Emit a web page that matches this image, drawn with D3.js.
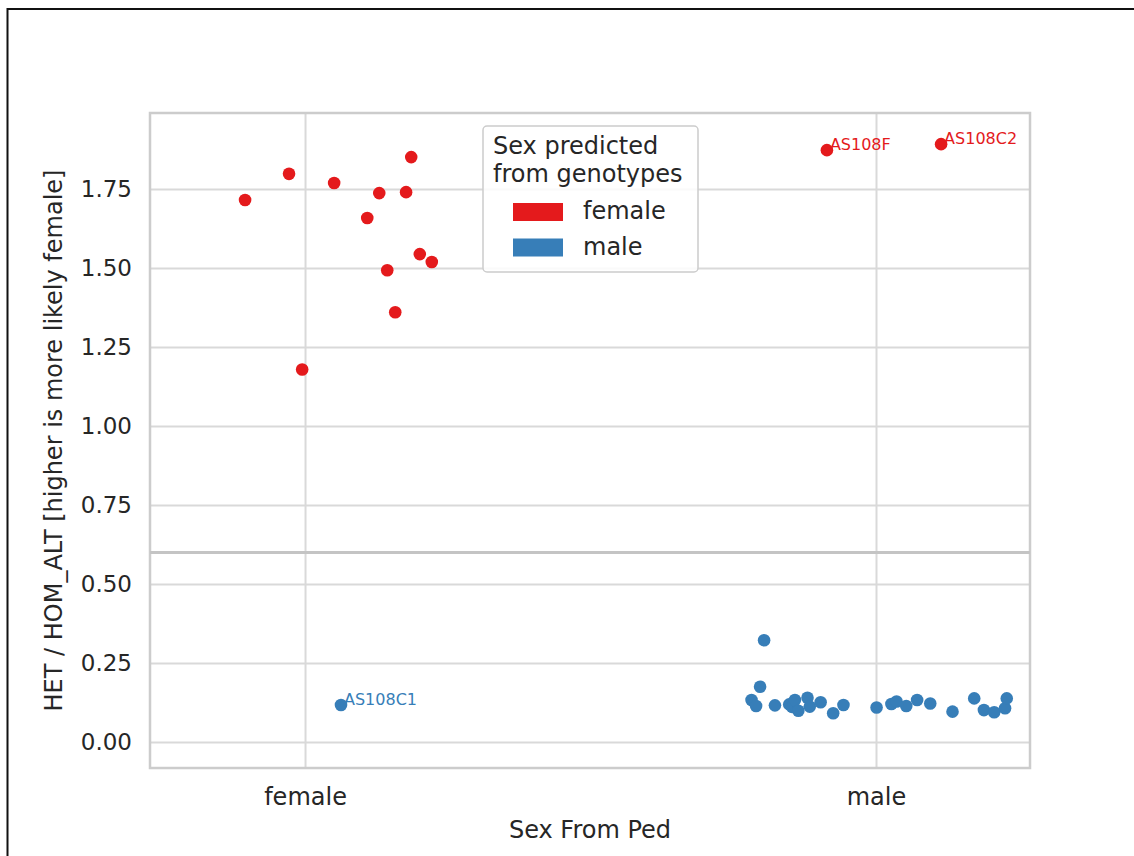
<!DOCTYPE html>
<html>
<head>
<meta charset="utf-8">
<script src="https://cdn.jsdelivr.net/npm/d3@7"></script>
<style>
  body { margin: 0; background: #fff; }
  text { font-family: 'DejaVu Sans', sans-serif; }
</style>
</head>
<body>
<svg id="chart" width="1134" height="856"></svg>
<script>
// categories on the x axis (Sex From Ped) and predicted sex (hue)
const categories = ['female', 'male'];
const predicted = ['female', 'male'];

// ped female, predicted female
const femFemRatio = [1.715, 1.798, 1.769, 1.851, 1.737, 1.740, 1.658, 1.544, 1.519, 1.493, 1.360, 1.179];
const femFemJitter = [-0.105, -0.028, 0.051, 0.186, 0.130, 0.177, 0.109, 0.201, 0.222, 0.144, 0.158, -0.005];

// ped female, predicted male
const femMaleRatio = [0.117];
const femMaleJitter = [0.063];
const femMaleLabels = ['AS108C1'];

// ped male, predicted female
const maleFemRatio = [1.873, 1.892];
const maleFemJitter = [-0.086, 0.114];
const maleFemLabels = ['AS108F', 'AS108C2'];

// ped male, predicted male
const maleMaleRatio = [0.322, 0.175, 0.133, 0.114, 0.116, 0.119, 0.111, 0.133, 0.099, 0.140, 0.112, 0.126,
  0.091, 0.117, 0.109, 0.120, 0.128, 0.114, 0.133, 0.122, 0.096, 0.138, 0.101, 0.094, 0.107, 0.138];
const maleMaleJitter = [-0.196, -0.203, -0.218, -0.210, -0.177, -0.152, -0.147, -0.142, -0.136, -0.120, -0.116, -0.097,
  -0.075, -0.057, 0.001, 0.027, 0.036, 0.053, 0.072, 0.095, 0.134, 0.172, 0.189, 0.207, 0.226, 0.229];

const yTicks = [0, 0.25, 0.5, 0.75, 1.0, 1.25, 1.5, 1.75];
const threshold = 0.6;

const color = d3.scaleOrdinal().domain(predicted).range(['#e41a1c', '#377eb8']);

function build(ratio, jitter, ped, pred, labels) {
  return ratio.map((r, i) => ({
    ratio: r,
    pos: categories.indexOf(ped) + jitter[i],
    pred: pred,
    label: labels ? labels[i] : null
  }));
}

const points = [].concat(
  build(femFemRatio, femFemJitter, 'female', 'female'),
  build(femMaleRatio, femMaleJitter, 'female', 'male', femMaleLabels),
  build(maleFemRatio, maleFemJitter, 'male', 'female', maleFemLabels),
  build(maleMaleRatio, maleMaleJitter, 'male', 'male')
);

const svg = d3.select('#chart');
const margin = { left: 150, right: 1030, top: 113, bottom: 768 };
const plotW = margin.right - margin.left, plotH = margin.bottom - margin.top;
const textColor = '#262626';

// outer frame of the screenshot
svg.append('path')
  .attr('d', 'M7.5,856 L7.5,9 L1134,9')
  .attr('fill', 'none')
  .attr('stroke', '#111')
  .attr('stroke-width', 2);

const x = d3.scaleLinear().domain([-0.2715, 1.2697]).range([0, plotW]);
const y = d3.scaleLinear().domain([-0.0823, 1.9905]).range([plotH, 0]);

const g = svg.append('g').attr('transform', 'translate(' + margin.left + ',' + margin.top + ')');

// y axis + horizontal grid
const yAxis = g.append('g')
  .call(d3.axisLeft(y).tickValues(yTicks).tickFormat(d3.format('.2f'))
    .tickSizeInner(-plotW).tickSizeOuter(0).tickPadding(18));
yAxis.select('.domain').remove();
yAxis.selectAll('line').attr('stroke', '#d9d9d9').attr('stroke-width', 2);
yAxis.selectAll('text').attr('fill', textColor).attr('font-size', '23px');

// x axis + vertical grid
const xAxis = g.append('g')
  .attr('transform', 'translate(0,' + plotH + ')')
  .call(d3.axisBottom(x).tickValues([0, 1]).tickFormat(i => categories[i])
    .tickSizeInner(-plotH).tickSizeOuter(0).tickPadding(20));
xAxis.select('.domain').remove();
xAxis.selectAll('line').attr('stroke', '#d9d9d9').attr('stroke-width', 2);
xAxis.selectAll('text').attr('fill', textColor).attr('font-size', '24px');

// spines
g.append('rect')
  .attr('width', plotW)
  .attr('height', plotH)
  .attr('fill', 'none')
  .attr('stroke', '#cccccc')
  .attr('stroke-width', 2.5);

// threshold line
g.append('line')
  .attr('x1', 0)
  .attr('x2', plotW)
  .attr('y1', y(threshold))
  .attr('y2', y(threshold))
  .attr('stroke', '#c4c4c4')
  .attr('stroke-width', 3);

// points
g.selectAll('circle.pt')
  .data(points)
  .enter()
  .append('circle')
  .attr('class', 'pt')
  .attr('cx', d => x(d.pos))
  .attr('cy', d => y(d.ratio))
  .attr('r', 6.3)
  .attr('fill', d => color(d.pred));

// sample labels
g.selectAll('text.lbl')
  .data(points.filter(d => d.label))
  .enter()
  .append('text')
  .attr('class', 'lbl')
  .attr('x', d => x(d.pos) + 3)
  .attr('y', d => y(d.ratio))
  .attr('fill', d => color(d.pred))
  .attr('font-size', '16px')
  .text(d => d.label);

// axis labels
svg.append('text')
  .attr('x', margin.left + plotW / 2)
  .attr('y', 838)
  .attr('text-anchor', 'middle')
  .attr('fill', textColor)
  .attr('font-size', '24px')
  .text('Sex From Ped');

svg.append('text')
  .attr('transform', 'translate(62,' + (margin.top + plotH / 2) + ') rotate(-90)')
  .attr('text-anchor', 'middle')
  .attr('fill', textColor)
  .attr('font-size', '24px')
  .text('HET / HOM_ALT [higher is more likely female]');

// legend
const legend = svg.append('g').attr('transform', 'translate(483,126)');
legend.append('rect')
  .attr('width', 215)
  .attr('height', 146)
  .attr('rx', 4)
  .attr('fill', 'white')
  .attr('fill-opacity', 0.85)
  .attr('stroke', '#cccccc')
  .attr('stroke-width', 1.5);

legend.selectAll('text.title')
  .data(['Sex predicted', 'from genotypes'])
  .enter()
  .append('text')
  .attr('class', 'title')
  .attr('x', 10)
  .attr('y', (d, i) => 28 + i * 28)
  .attr('fill', textColor)
  .attr('font-size', '24px')
  .text(d => d);

const items = legend.selectAll('g.item')
  .data(predicted)
  .enter()
  .append('g')
  .attr('class', 'item')
  .attr('transform', (d, i) => 'translate(30,' + (77 + i * 35.5) + ')');
items.append('rect')
  .attr('width', 50)
  .attr('height', 18)
  .attr('fill', d => color(d));
items.append('text')
  .attr('x', 70)
  .attr('y', 16)
  .attr('fill', textColor)
  .attr('font-size', '24px')
  .text(d => d);
</script>
</body>
</html>
